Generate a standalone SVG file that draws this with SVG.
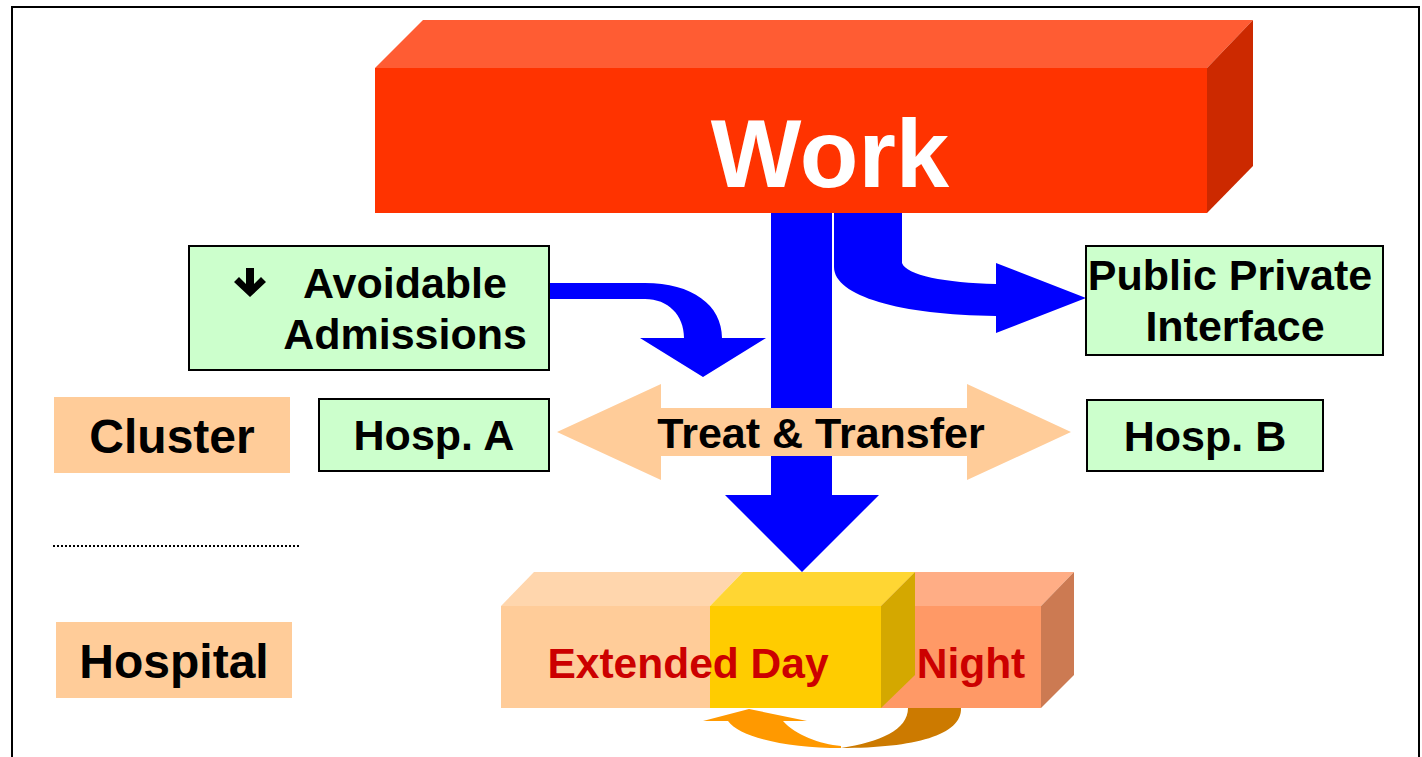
<svg xmlns="http://www.w3.org/2000/svg" width="1422" height="757" viewBox="0 0 1422 757">
<style>
text{font-family:"Liberation Sans",Arial,sans-serif;font-weight:bold;text-anchor:middle}
.lbl{font-size:43px;fill:#000}
.big{font-size:48px;fill:#000}
.green{fill:#CCFFCC;stroke:#000;stroke-width:2}
.peach{fill:#FFCC99}
.blue{fill:#0000FF}
.red{font-size:42.5px;fill:#CC0000}
</style>
<rect x="0" y="0" width="1422" height="757" fill="#fff"/>
<rect x="12" y="7" width="1407" height="800" fill="none" stroke="#000" stroke-width="2"/>

<g id="work">
<polygon points="375,68 423,20 1253,20 1207,68" fill="#FF5C33"/>
<polygon points="1207,68 1253,20 1253,166 1207,213" fill="#CC2900"/>
<rect x="375" y="68" width="832" height="145" fill="#FF3300"/>
<text x="830" y="187" style="font-size:96px;fill:#fff">Work</text>
</g>

<g id="connectors">
<path class="blue" d="M 771 213 L 832 213 L 832 495 L 879 495 L 802 572 L 725 495 L 771 495 Z"/>
<path class="blue" d="M 834 213 L 902 213 L 902 263 C 906 275 945 283 996 284 L 996 263 L 1086 298 L 996 333 L 996 316 C 900 315 834 296 834 267 Z"/>
<path class="blue" d="M 550 283 L 645 283 C 692 283 722 305 722 338 L 766 338 L 703 377 L 640 338 L 684 338 C 684 315 668 299 645 299 L 550 299 Z"/>
<path id="treat" class="peach" d="M 557 432 L 661 384 L 661 408 L 967 408 L 967 384 L 1071 432 L 967 480 L 967 456 L 661 456 L 661 480 Z"/>
<text class="lbl" x="821" y="448">Treat &amp; Transfer</text>
<line x1="53" y1="546" x2="300" y2="546" stroke="#000" stroke-width="2" stroke-dasharray="2 2"/>
</g>

<g id="avoidable">
<rect class="green" x="189" y="246" width="360" height="124"/>
<path d="M 246 268 L 254 268 L 254 284 L 261 277 L 266 282 L 250 297 L 234 282 L 239 277 L 246 284 Z" fill="#000"/>
<text class="lbl" x="405" y="298">Avoidable</text>
<text class="lbl" x="405" y="349">Admissions</text>
</g>

<g id="ppi">
<rect class="green" x="1086" y="246" width="297" height="109"/>
<text class="lbl" x="1230" y="290">Public Private</text>
<text class="lbl" x="1235" y="341">Interface</text>
</g>

<g id="cluster">
<rect class="peach" x="54" y="397" width="236" height="76"/>
<text class="big" x="172" y="453">Cluster</text>
</g>

<g id="hospA">
<rect class="green" x="319" y="399" width="230" height="72"/>
<text class="lbl" x="434" y="450">Hosp. A</text>
</g>

<g id="hospB">
<rect class="green" x="1087" y="400" width="236" height="71"/>
<text class="lbl" x="1205" y="451">Hosp. B</text>
</g>

<g id="hospital">
<rect class="peach" x="56" y="622" width="236" height="76"/>
<text class="big" x="174" y="678">Hospital</text>
</g>

<g id="shifts">
<polygon points="501,606 534,572 743,572 710,606" fill="#FFD6AD"/>
<rect x="501" y="606" width="209" height="102" fill="#FFCC99"/>
<polygon points="881,606 915,572 1074,572 1041,606" fill="#FFAD85"/>
<polygon points="1041,606 1074,572 1074,675 1041,708" fill="#CC7A52"/>
<rect x="881" y="606" width="160" height="102" fill="#FF9966"/>
<polygon points="710,606 743,572 915,572 881,606" fill="#FFD633"/>
<rect x="710" y="606" width="171" height="102" fill="#FFCC00"/>
<polygon points="881,606 915,572 915,675 881,708" fill="#D4A800"/>
<text class="red" x="688" y="678">Extended Day</text>
<text class="red" x="971" y="678">Night</text>
<path d="M 908 708 L 961 708 C 962 735 915 748 841 748 C 880 742 908 730 908 708 Z" fill="#CC7A00"/>
<path d="M 841 748 C 790 748 740 738 728 721 L 703 721 L 749 709 L 807 721 L 783 721 C 795 735 820 744 841 746 Z" fill="#FF9900"/>
</g>
</svg>
